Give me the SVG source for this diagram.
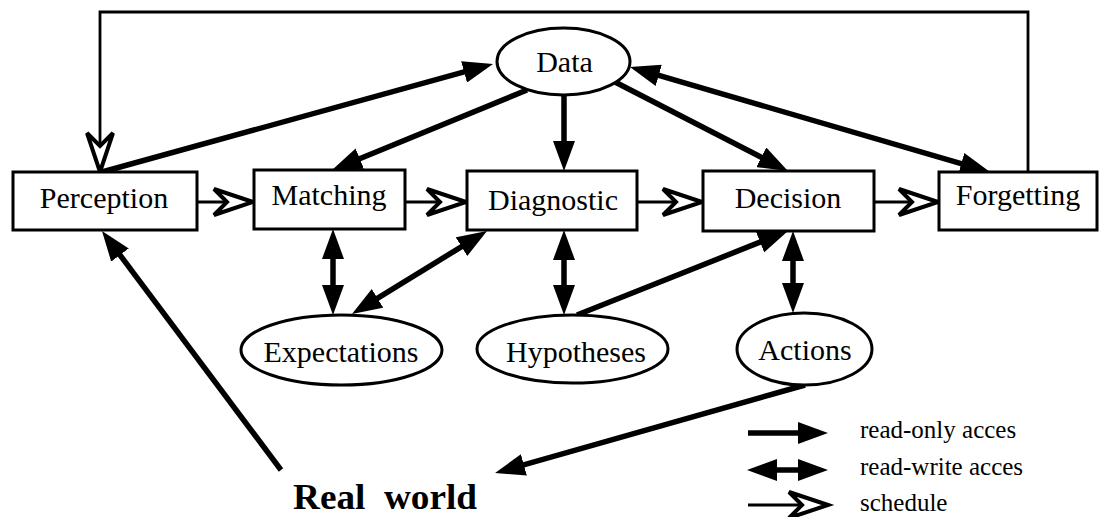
<svg xmlns="http://www.w3.org/2000/svg" width="1099" height="517" viewBox="0 0 1099 517">
<style>
.box{fill:#fff;stroke:#000;stroke-width:3}
.ell{fill:#fff;stroke:#000;stroke-width:3}
.lbl{font-family:"Liberation Serif",serif;font-size:30px;fill:#000;text-anchor:middle}
.leg{font-family:"Liberation Serif",serif;font-size:25px;fill:#000}
.rw{font-family:"Liberation Serif",serif;font-size:36px;font-weight:bold;fill:#000}
.ro{fill:none;stroke:#000;stroke-width:5.5;marker-end:url(#fa)}
.bi{fill:none;stroke:#000;stroke-width:5.5;marker-start:url(#fa);marker-end:url(#fa)}
.sc{fill:none;stroke:#000;stroke-width:2.8;marker-end:url(#ch)}
</style>
<defs>
<marker id="fa" markerUnits="userSpaceOnUse" viewBox="0 0 30 22" markerWidth="30" markerHeight="22" refX="16" refY="11" orient="auto-start-reverse">
<path d="M0,0 L30,11 L0,22 Z" fill="#000"/>
</marker>
<marker id="ch" markerUnits="userSpaceOnUse" viewBox="-3 -17 46 34" markerWidth="46" markerHeight="34" refX="40" refY="0" orient="auto" overflow="visible">
<path d="M40,0 L1,-13 L14,0 L1,13 Z" fill="#fff" stroke="#000" stroke-width="4" stroke-linejoin="miter"/>
</marker>
</defs>

<g id="connectors">
<polyline class="sc" points="1028,172 1028,12 100,12 100,172"/>
<line class="sc" x1="197" y1="202" x2="253" y2="202"/>
<line class="sc" x1="405" y1="202" x2="466" y2="202"/>
<line class="sc" x1="637" y1="202" x2="702" y2="202"/>
<line class="sc" x1="873" y1="202" x2="938" y2="202"/>
<line class="ro" x1="102" y1="172" x2="479.5" y2="67.7"/>
<line class="ro" x1="527" y1="90" x2="345" y2="164.7"/>
<line class="ro" x1="564" y1="95" x2="564" y2="157"/>
<line class="ro" x1="615" y1="82" x2="775.5" y2="164.6"/>
<line class="bi" x1="643.4" y1="70.9" x2="976.6" y2="168.1"/>
<line class="bi" x1="333" y1="243" x2="333" y2="301"/>
<line class="bi" x1="475.1" y1="238.3" x2="363.9" y2="306.7"/>
<line class="bi" x1="564" y1="244" x2="564" y2="301"/>
<line class="ro" x1="577" y1="315" x2="775" y2="236.2"/>
<line class="bi" x1="793" y1="245" x2="793" y2="299"/>
<line class="ro" x1="805" y1="385" x2="508.5" y2="469.2"/>
<line class="ro" x1="281" y1="470" x2="110.4" y2="242.2"/>
</g>

<g id="perception"><rect class="box" x="13" y="172" width="184" height="58"/><text class="lbl" x="104" y="208">Perception</text></g>
<g id="matching"><rect class="box" x="254" y="170" width="151" height="59"/><text class="lbl" x="329" y="205">Matching</text></g>
<g id="diagnostic"><rect class="box" x="467" y="171" width="170" height="59"/><text class="lbl" x="553" y="210">Diagnostic</text></g>
<g id="decision"><rect class="box" x="703" y="171" width="171" height="60"/><text class="lbl" x="788" y="208">Decision</text></g>
<g id="forgetting"><rect class="box" x="939" y="172" width="158" height="58"/><text class="lbl" x="1018" y="205">Forgetting</text></g>

<g id="data"><ellipse class="ell" cx="563.5" cy="61.5" rx="66.5" ry="33.5"/><text class="lbl" x="564.5" y="72">Data</text></g>
<g id="expectations"><ellipse class="ell" cx="341.5" cy="350" rx="100.5" ry="35"/><text class="lbl" x="341" y="362">Expectations</text></g>
<g id="hypotheses"><ellipse class="ell" cx="572.5" cy="349" rx="95.5" ry="34"/><text class="lbl" x="576" y="362">Hypotheses</text></g>
<g id="actions"><ellipse class="ell" cx="804.5" cy="349" rx="67.5" ry="36"/><text class="lbl" x="805" y="360">Actions</text></g>

<g id="realworld"><text class="rw" x="293" y="509" xml:space="preserve" textLength="184" lengthAdjust="spacingAndGlyphs">Real  world</text></g>

<g id="legend">
<line class="ro" x1="748" y1="433" x2="814" y2="433"/>
<line class="bi" x1="761" y1="470" x2="814" y2="470"/>
<line class="sc" x1="748" y1="505" x2="828" y2="505"/>
<text class="leg" x="860" y="438">read-only acces</text>
<text class="leg" x="860" y="475">read-write acces</text>
<text class="leg" x="860" y="511">schedule</text>
</g>
</svg>
